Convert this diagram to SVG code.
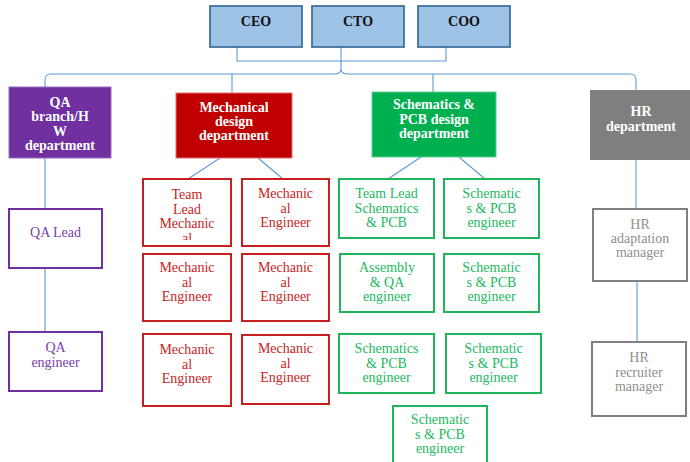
<svg xmlns="http://www.w3.org/2000/svg" width="690" height="462" viewBox="0 0 690 462">
<style>
text{font-family:"Liberation Serif","Times New Roman",serif;font-size:14px;text-anchor:middle}
.top rect{fill:#9DC3E6;stroke:#41719C;stroke-width:1.8}
.top text{font-weight:bold;fill:#111}
.dept text{font-weight:bold;fill:#fff}
.ch rect{fill:#fff;stroke-width:2}
.qa rect{stroke:#7030A0}.qa text{fill:#7A3DB0}
.me rect{stroke:#C81E1E}.me text{fill:#C81E1E}
.sc rect{stroke:#1DB45A}.sc text{fill:#22B85F}
.hr rect{stroke:#808080}.hr text{fill:#8E8E8E}
#connectors path,#connectors line{fill:none;stroke:#5B9BD5;stroke-width:1.1}
</style>
<defs>
<clipPath id="clipTL"><rect x="143" y="179" width="88" height="61"/></clipPath>
</defs>
<g id="connectors">
<path d="M237,47 V61 H446 V47"/>
<line x1="341" y1="47" x2="341" y2="69"/>
<path d="M45,87 V80 Q45,74 51,74 H334 Q341,74 341,69 Q341,74 348,74 H630 Q636,74 636,80 V90"/>
<line x1="232" y1="74" x2="232" y2="93"/>
<line x1="433" y1="74" x2="433" y2="92"/>
<line x1="45" y1="158" x2="45" y2="209"/>
<line x1="45" y1="268" x2="45" y2="332"/>
<line x1="220" y1="158" x2="188" y2="179"/>
<line x1="258" y1="158" x2="283" y2="179"/>
<line x1="421" y1="157" x2="388" y2="179"/>
<line x1="459" y1="157" x2="485" y2="179"/>
<line x1="636" y1="160" x2="636" y2="209"/>
<line x1="637" y1="281" x2="637" y2="342"/>
</g>
<g id="ceo" class="top"><rect x="210" y="6" width="92" height="41"/><text x="256" y="26">CEO</text></g>
<g id="cto" class="top"><rect x="312" y="6" width="92" height="41"/><text x="358" y="26">CTO</text></g>
<g id="coo" class="top"><rect x="418" y="6" width="92" height="41"/><text x="464" y="26">COO</text></g>

<g id="qa-dept" class="dept"><rect x="9" y="87" width="102" height="71" fill="#7030A0" stroke="#9A6BC4" stroke-width="1"/>
<text x="60" y="106.5">QA</text><text x="60" y="121">branch/H</text><text x="60" y="135.5">W</text><text x="60" y="150">department</text></g>
<g id="mech-dept" class="dept"><rect x="176" y="93" width="116" height="65" fill="#C00000" stroke="#E07070" stroke-width="1"/>
<text x="234" y="111.5">Mechanical</text><text x="234" y="125.5">design</text><text x="234" y="140">department</text></g>
<g id="sch-dept" class="dept"><rect x="372" y="92" width="124" height="65" fill="#00B050" stroke="#5FD08F" stroke-width="1"/>
<text x="434" y="109">Schematics &amp;</text><text x="434" y="124">PCB design</text><text x="434" y="138">department</text></g>
<g id="hr-dept" class="dept"><rect x="590" y="90" width="102" height="70" fill="#7F7F7F"/>
<text x="641" y="116">HR</text><text x="641" y="131">department</text></g>

<g id="qa-lead" class="ch qa"><rect x="9" y="209" width="93" height="59"/><text x="55.5" y="237">QA Lead</text></g>
<g id="qa-eng" class="ch qa"><rect x="9" y="332" width="93" height="59"/><text x="55.5" y="352">QA</text><text x="55.5" y="367">engineer</text></g>

<g id="mech-tl" class="ch me"><rect x="143" y="179" width="88" height="67"/>
<g clip-path="url(#clipTL)"><text x="187" y="199">Team</text><text x="187" y="213.5">Lead</text><text x="187" y="228">Mechanic</text><text x="187" y="242.5">al</text></g></g>
<g id="mech-e1" class="ch me"><rect x="242" y="179" width="87" height="67"/><text x="285.5" y="198">Mechanic</text><text x="285.5" y="212.5">al</text><text x="285.5" y="227">Engineer</text></g>
<g id="mech-e2" class="ch me"><rect x="143" y="254" width="88" height="67"/><text x="187" y="272">Mechanic</text><text x="187" y="286.5">al</text><text x="187" y="301">Engineer</text></g>
<g id="mech-e3" class="ch me"><rect x="242" y="254" width="87" height="67"/><text x="285.5" y="272">Mechanic</text><text x="285.5" y="286.5">al</text><text x="285.5" y="301">Engineer</text></g>
<g id="mech-e4" class="ch me"><rect x="143" y="334" width="88" height="72"/><text x="187" y="354">Mechanic</text><text x="187" y="368.5">al</text><text x="187" y="383">Engineer</text></g>
<g id="mech-e5" class="ch me"><rect x="242" y="335" width="87" height="69"/><text x="285.5" y="353">Mechanic</text><text x="285.5" y="367.5">al</text><text x="285.5" y="382">Engineer</text></g>

<g id="sch-tl" class="ch sc"><rect x="339" y="179" width="95" height="59"/><text x="386.5" y="198">Team Lead</text><text x="386.5" y="212.5">Schematics</text><text x="386.5" y="227">&amp; PCB</text></g>
<g id="sch-e1" class="ch sc"><rect x="444" y="179" width="95" height="59"/><text x="491.5" y="198">Schematic</text><text x="491.5" y="212.5">s &amp; PCB</text><text x="491.5" y="227">engineer</text></g>
<g id="sch-qa" class="ch sc"><rect x="340" y="254" width="94" height="58"/><text x="387" y="272">Assembly</text><text x="387" y="286.5">&amp; QA</text><text x="387" y="301">engineer</text></g>
<g id="sch-e2" class="ch sc"><rect x="444" y="254" width="95" height="58"/><text x="491.5" y="272">Schematic</text><text x="491.5" y="286.5">s &amp; PCB</text><text x="491.5" y="301">engineer</text></g>
<g id="sch-e3" class="ch sc"><rect x="339" y="334" width="95" height="59"/><text x="386.5" y="353">Schematics</text><text x="386.5" y="367.5">&amp; PCB</text><text x="386.5" y="382">engineer</text></g>
<g id="sch-e4" class="ch sc"><rect x="446" y="334" width="95" height="59"/><text x="493.5" y="353">Schematic</text><text x="493.5" y="367.5">s &amp; PCB</text><text x="493.5" y="382">engineer</text></g>
<g id="sch-e5" class="ch sc"><rect x="393" y="406" width="94" height="70"/><text x="440" y="424">Schematic</text><text x="440" y="438.5">s &amp; PCB</text><text x="440" y="453">engineer</text></g>

<g id="hr-adapt" class="ch hr"><rect x="593" y="209" width="94" height="72"/><text x="640" y="229">HR</text><text x="640" y="243">adaptation</text><text x="640" y="257">manager</text></g>
<g id="hr-recr" class="ch hr"><rect x="592" y="342" width="94" height="74"/><text x="639" y="362">HR</text><text x="639" y="377">recruiter</text><text x="639" y="391">manager</text></g>
</svg>
